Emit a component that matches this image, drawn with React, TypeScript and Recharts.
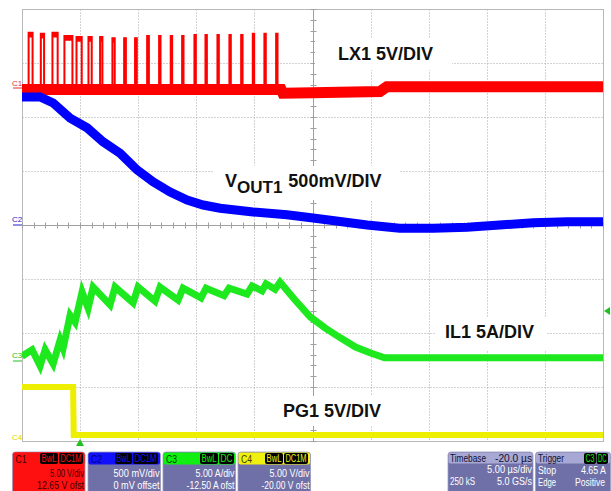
import React from 'react';
import { LineChart, Line, XAxis, YAxis } from 'recharts';

// time in µs (trigger at 0), amplitude in screen divisions (centre line = 0)
const timeTicks = [-5, 0, 5, 10, 15, 20, 25, 30, 35, 40, 45];
const divTicks = [-4, -3, -2, -1, 0, 1, 2, 3, 4];

// LX1 switch node: pulse start (µs), width (µs), top level (div)
const lxPulseStart = [-4.43, -3.38, -2.38, -1.35, -0.31, 0.72, 1.72, 2.78, 3.79, 4.73, 5.77, 6.8, 7.8, 8.78, 9.84, 10.79, 11.82, 12.85, 13.86, 14.86, 15.86, 16.87];
const lxPulseWidth = [0.34, 0.28, 0.45, 0.69, 0.45, 0.28, 0.2, 0.2, 0.15, 0.15, 0.15, 0.12, 0.12, 0.12, 0.12, 0.12, 0.12, 0.12, 0.12, 0.12, 0.12, 0.12];
const lxPulseTop = [3.56, 3.54, 3.56, 3.5, 3.48, 3.48, 3.48, 3.46, 3.46, 3.46, 3.5, 3.5, 3.5, 3.5, 3.52, 3.52, 3.52, 3.52, 3.52, 3.54, 3.54, 3.54];
const lxLow = 2.51;
const lxBaseTime = [-5, 17.3, 17.45, 20, 25.8, 26.4, 45];
const lxBaseLevel = [2.51, 2.51, 2.44, 2.45, 2.47, 2.56, 2.56];

// VOUT1
const voutTime = [-5, -3.44, -2.32, -0.86, 0.6, 1.98, 3.44, 4.9, 6.28, 7.75, 9.21, 10.59, 12.05, 14.89, 17.8, 20.05, 24.7, 27.5, 30.4, 33.3, 36.1, 39.0, 41.9, 45];
const voutLevel = [2.37, 2.37, 2.26, 1.98, 1.8, 1.54, 1.33, 1.02, 0.8, 0.61, 0.46, 0.37, 0.31, 0.24, 0.19, 0.13, 0, -0.06, -0.06, -0.04, 0, 0.04, 0.06, 0.06];

// IL1
const ilTime = [-5, -4.13, -3.44, -3.01, -2.32, -1.72, -1.46, -0.86, -0.43, 0.17, 0.69, 1.12, 2.58, 3.01, 4.56, 4.99, 6.45, 6.88, 8.43, 8.86, 10.41, 10.84, 12.39, 12.82, 14.37, 14.8, 15.66, 16.0, 16.78, 17.21, 18.5, 19.8, 21.1, 22.4, 23.7, 25.0, 26.2, 45];
const ilLevel = [-2.43, -2.31, -2.61, -2.31, -2.57, -2.13, -2.28, -1.67, -1.8, -1.24, -1.54, -1.15, -1.48, -1.15, -1.44, -1.15, -1.41, -1.15, -1.39, -1.17, -1.35, -1.17, -1.31, -1.17, -1.28, -1.13, -1.22, -1.09, -1.19, -1.06, -1.39, -1.7, -1.91, -2.09, -2.26, -2.37, -2.46, -2.46];

// PG1
const pgTime = [-5, -0.6, -0.55, 45];
const pgLevel = [-3.0, -3.0, -3.89, -3.89];

const W = 611;
const H = 491;
const FONT = "'Liberation Sans', Arial, sans-serif";
const T0 = timeTicks[0];
const T1 = timeTicks[timeTicks.length - 1];
const D0 = divTicks[0];
const D1 = divTicks[divTicks.length - 1];
const TC = 20; // centre of the time axis
const M = { top: 9, right: 8, left: 22, bottom: 50 };
const PW = W - M.left - M.right;
const PH = H - M.top - M.bottom;

type Pt = { t: number; v: number | null };
const zip = (ts: number[], vs: number[]): Pt[] => ts.map((t, i) => ({ t, v: vs[i] }));

const lxBaseData = zip(lxBaseTime, lxBaseLevel);
const voutData = zip(voutTime, voutLevel);
const ilData = zip(ilTime, ilLevel);
const pgData = zip(pgTime, pgLevel);

const lxPulseData: Pt[] = lxPulseStart.flatMap((s, i) => [
  { t: s, v: lxLow },
  { t: s, v: lxPulseTop[i] },
  { t: s + lxPulseWidth[i], v: lxPulseTop[i] },
  { t: s + lxPulseWidth[i], v: lxLow },
  { t: s + lxPulseWidth[i], v: null }
]);
const lxTopData: Pt[] = lxPulseStart.flatMap((s, i) => [
  { t: s, v: lxPulseTop[i] - 0.04 },
  { t: s + lxPulseWidth[i], v: lxPulseTop[i] - 0.04 },
  { t: s + lxPulseWidth[i], v: null }
]);

// graticule geometry (screen frame, same margins as the chart)
const gx = (t: number) => Math.round(M.left + ((t - T0) / (T1 - T0)) * PW) + 0.5;
const gy = (d: number) => Math.round(M.top + ((D1 - d) / (D1 - D0)) * PH) + 0.5;
const hMinor = Array.from({ length: 51 }, (_, i) => T0 + i);
const vMinor = Array.from({ length: 41 }, (_, i) => D0 + i * 0.2);

const Graticule = () => (
  <svg width={W} height={H} style={{ position: 'absolute', left: 0, top: 0 }}>
    <g stroke="#a6a6a6" strokeWidth={1} strokeDasharray="1 2">
      {timeTicks.slice(1, -1).map((t) => (
        <line key={`x${t}`} x1={gx(t)} x2={gx(t)} y1={gy(D1)} y2={gy(D0)} />
      ))}
      {divTicks.slice(1, -1).map((d) => (
        <line key={`y${d}`} x1={gx(T0)} x2={gx(T1)} y1={gy(d)} y2={gy(d)} />
      ))}
    </g>
    <rect x={gx(T0)} y={gy(D1)} width={gx(T1) - gx(T0)} height={gy(D0) - gy(D1)} fill="none" stroke="#b8b8b8" />
    <g stroke="#a0a0a0" strokeWidth={1}>
      <line x1={gx(T0)} x2={gx(T1)} y1={gy(0)} y2={gy(0)} />
      <line x1={gx(TC)} x2={gx(TC)} y1={gy(D1)} y2={gy(D0)} />
      {hMinor.map((t) => (
        <line key={`hm${t}`} x1={gx(t)} x2={gx(t)} y1={gy(0) - 3} y2={gy(0) + 3} />
      ))}
      {vMinor.map((d) => (
        <line key={`vm${d}`} x1={gx(TC) - 3} x2={gx(TC) + 3} y1={gy(d)} y2={gy(d)} />
      ))}
    </g>
  </svg>
);

type Txt = { s: string; w: number };
type Box = {
  name: string;
  x: number;
  head: string;
  body: string;
  nameColor: string;
  rowColor: string;
  tags: { label: string; x: number; w: number }[];
  rows: Txt[];
};

const channelBoxes: Box[] = [
  { name: 'C1', x: 12.5, head: '#ff1010', body: '#ff1010', nameColor: '#3a0000', rowColor: '#3a0000',
    tags: [{ label: 'BwL', x: 27.5, w: 18 }, { label: 'DC1M', x: 46.5, w: 24 }],
    rows: [{ s: '5.00 V/div', w: 34 }, { s: '12.65 V ofst', w: 47 }] },
  { name: 'C2', x: 88, head: '#1010ff', body: '#7070a8', nameColor: '#000080', rowColor: '#ffffff',
    tags: [{ label: 'BwL', x: 27, w: 17 }, { label: 'DC1M', x: 45, w: 25 }],
    rows: [{ s: '500 mV/div', w: 46 }, { s: '0 mV offset', w: 46 }] },
  { name: 'C3', x: 163, head: '#10f010', body: '#7070a8', nameColor: '#004000', rowColor: '#ffffff',
    tags: [{ label: 'BwL', x: 37, w: 18 }, { label: 'DC', x: 56, w: 15 }],
    rows: [{ s: '5.00 A/div', w: 39 }, { s: '-12.50 A ofst', w: 48 }] },
  { name: 'C4', x: 238, head: '#f0f010', body: '#7070a8', nameColor: '#404000', rowColor: '#ffffff',
    tags: [{ label: 'BwL', x: 27, w: 18 }, { label: 'DC1M', x: 46, w: 24 }],
    rows: [{ s: '5.00 V/div', w: 40 }, { s: '-20.00 V ofst', w: 48 }] }
];

const Tag = ({ x, y, w, label, color }: { x: number; y: number; w: number; label: string; color: string }) => (
  <g>
    <rect x={x} y={y} width={w} height={11} rx={2} fill="#000" />
    <text x={x + w / 2} y={y + 9} textAnchor="middle" fontSize={10} fill={color}
      textLength={w - 3} lengthAdjust="spacingAndGlyphs">{label}</text>
  </g>
);

const T = ({ x, y, w, s, fill, anchor = 'start' }: { x: number; y: number; w: number; s: string; fill: string; anchor?: string }) => (
  <text x={x} y={y} fontSize={11} fill={fill} textAnchor={anchor as any}
    textLength={w} lengthAdjust="spacingAndGlyphs">{s}</text>
);

const ChannelBox = ({ b }: { b: Box }) => (
  <g fontFamily={FONT}>
    <rect x={b.x} y={452} width={72.5} height={45} rx={3} fill={b.body} stroke="#9a9ac0" strokeWidth={0.8} />
    <rect x={b.x + 0.5} y={452.5} width={71.5} height={12} rx={2} fill={b.head} />
    <T x={b.x + 3} y={463} w={11} s={b.name} fill={b.nameColor} />
    {b.tags.map((t) => (
      <Tag key={t.label} x={b.x + t.x} y={453} w={t.w} label={t.label} color={b.head} />
    ))}
    <T x={b.x + 71.5} y={477} w={b.rows[0].w} s={b.rows[0].s} fill={b.rowColor} anchor="end" />
    <T x={b.x + 71.5} y={489} w={b.rows[1].w} s={b.rows[1].s} fill={b.rowColor} anchor="end" />
  </g>
);

const Overlay = () => (
  <svg width={W} height={H} style={{ position: 'absolute', left: 0, top: 0 }}>
    {/* channel ground markers */}
    <g fontFamily={FONT} fontSize={8}>
      <text x={12} y={86} fill="#e03030">C1</text>
      <line x1={13} x2={22} y1={88} y2={88} stroke="#e03030" strokeWidth={1} />
      <text x={12} y={222} fill="#2020d0">C2</text>
      <line x1={13} x2={22} y1={225} y2={225} stroke="#2020d0" strokeWidth={1} />
      <text x={12} y={358} fill="#20c020">C3</text>
      <line x1={13} x2={22} y1={361} y2={361} stroke="#20c020" strokeWidth={1} />
      <text x={12} y={440} fill="#d8d800">C4</text>
    </g>
    {/* trigger markers */}
    <polygon points="76,446 84,446 80,439" fill="#20c020" />
    <polygon points="604,311 610,307 610,315" fill="#20c020" />

    {/* annotation labels */}
    <g fontFamily={FONT} fontWeight="bold" fontSize={18} fill="#111">
      <rect x={315} y={38} width={137} height={32} fill="#fff" />
      <text x={338} y={60}>LX1 5V/DIV</text>
      <rect x={214} y={166} width={186} height={34} fill="#fff" />
      <text x={225} y={187}>V<tspan dy={6} fontSize={17}>OUT1</tspan><tspan dy={-6} dx={6}>500mV/DIV</tspan></text>
      <rect x={435} y={318} width={112} height={32} fill="#fff" />
      <text x={445} y={338}>IL1 5A/DIV</text>
      <rect x={272} y={396} width={114} height={30} fill="#fff" />
      <text x={283} y={417}>PG1 5V/DIV</text>
    </g>

    {/* status bar */}
    {channelBoxes.map((b) => <ChannelBox key={b.name} b={b} />)}
    <g fontFamily={FONT}>
      <rect x={448} y={452} width={85} height={45} rx={3} fill="#7070a8" stroke="#9a9ac0" strokeWidth={0.8} />
      <rect x={448.5} y={452.5} width={84} height={11} rx={2} fill="#a8a8d4" />
      <T x={450} y={462} w={36} s="Timebase" fill="#101030" />
      <T x={532} y={462} w={37} s="-20.0 µs" fill="#101030" anchor="end" />
      <T x={532} y={473} w={45} s="5.00 µs/div" fill="#fff" anchor="end" />
      <T x={450} y={485} w={25} s="250 kS" fill="#fff" />
      <T x={532} y={485} w={35} s="5.0 GS/s" fill="#fff" anchor="end" />

      <rect x={535.5} y={452} width={75} height={45} rx={3} fill="#7070a8" stroke="#9a9ac0" strokeWidth={0.8} />
      <rect x={536} y={452.5} width={74} height={11} rx={2} fill="#a8a8d4" />
      <T x={538} y={462} w={26} s="Trigger" fill="#101030" />
      <Tag x={584} y={453} w={12} label="C3" color="#10f010" />
      <Tag x={596.5} y={453} w={11.5} label="DC" color="#10f010" />
      <T x={538} y={474} w={18} s="Stop" fill="#fff" />
      <T x={606} y={474} w={25} s="4.65 A" fill="#fff" anchor="end" />
      <T x={538} y={486} w={18} s="Edge" fill="#fff" />
      <T x={605} y={486} w={30} s="Positive" fill="#fff" anchor="end" />
    </g>
  </svg>
);

const deco = { dot: false, activeDot: false, isAnimationActive: false, type: 'linear' as const, dataKey: 'v' };

export default function App() {
  return (
    <div style={{ position: 'fixed', left: 0, top: 0, width: W, height: H, background: '#fff', fontFamily: FONT }}>
      <Graticule />
      <LineChart width={W} height={H} margin={M} style={{ position: 'relative' }}>
        <XAxis type="number" dataKey="t" domain={[T0, T1]} ticks={timeTicks} allowDataOverflow hide />
        <YAxis type="number" domain={[D0, D1]} ticks={divTicks} allowDataOverflow hide />

        <Line {...deco} data={lxBaseData} stroke="#ff0000" strokeWidth={11} />
        <Line {...deco} data={lxPulseData} stroke="#ff0000" strokeWidth={2} />
        <Line {...deco} data={lxTopData} stroke="#ff0000" strokeWidth={5} />
        <Line {...deco} data={voutData} stroke="#0000ff" strokeWidth={9} />
        <Line {...deco} data={ilData} stroke="#1ee81e" strokeWidth={7} />
        <Line {...deco} data={pgData} stroke="#eeee00" strokeWidth={6} />
      </LineChart>
      <Overlay />
    </div>
  );
}
